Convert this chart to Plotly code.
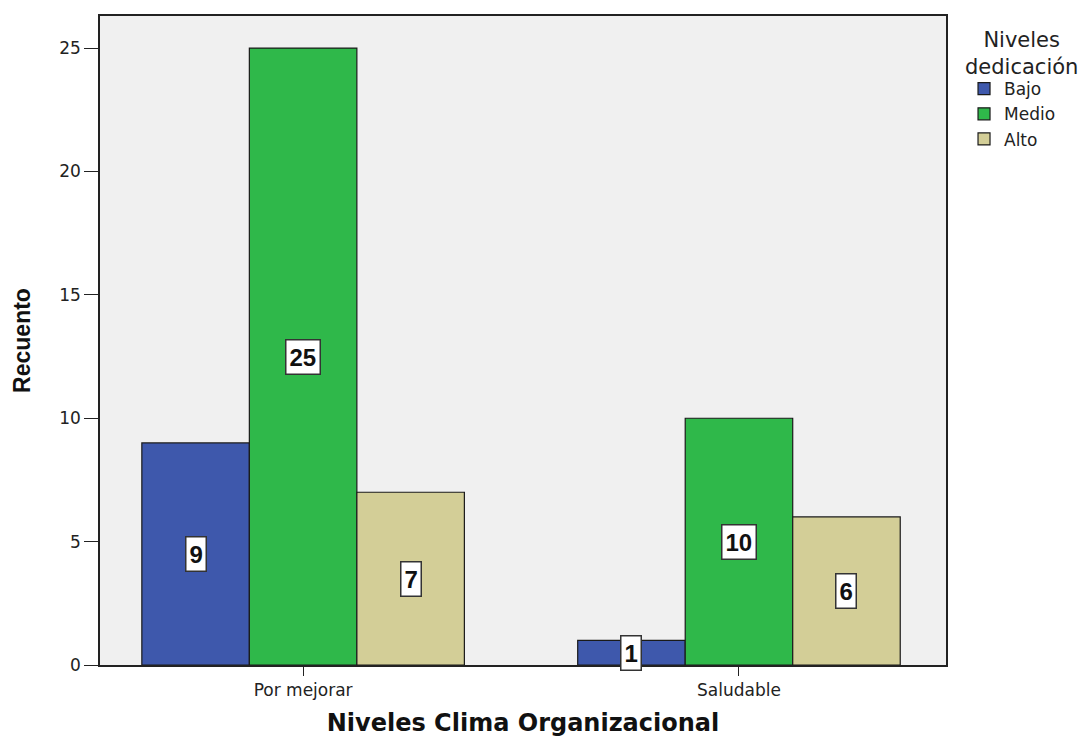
import plotly.graph_objects as go

categories = ["Por mejorar", "Saludable"]
series_names = ["Bajo", "Medio", "Alto"]
bajo = [9, 1]
medio = [25, 10]
alto = [7, 6]
colors = ["#3e58ac", "#2fb84a", "#d3ce97"]
series_values = [bajo, medio, alto]
y_ticks = [0, 5, 10, 15, 20, 25]

fig = go.Figure()
for name, vals, c in zip(series_names, series_values, colors):
    fig.add_trace(go.Bar(x=categories, y=vals, name=name,
                         marker=dict(color=c, line=dict(color="#1a1a1a", width=1.2))))

bargap = 0.26
bw = (1 - bargap) / 3
for si, vals in enumerate(series_values):
    off = (si - 1) * bw
    for ci, v in enumerate(vals):
        fig.add_annotation(x=ci + off, y=v / 2, xref="x", yref="y", text=f"<b>{v}</b>",
                           showarrow=False, bgcolor="white", bordercolor="#333333", borderwidth=1.5,
                           borderpad=3, font=dict(family="Liberation Sans, Arial", size=24, color="#111"))

# legend title as centered text
fig.add_annotation(x=1.0887, y=0.985, xref="paper", yref="paper", xanchor="center", yanchor="top",
                   text="Niveles<br>dedicación", align="center", showarrow=False,
                   font=dict(family="DejaVu Sans", size=21, color="#222"))

fig.update_layout(
    width=1089, height=737,
    barmode="group", bargap=bargap, bargroupgap=0,
    plot_bgcolor="#f0f0f0", paper_bgcolor="white",
    margin=dict(l=100, r=143, t=16, b=72),
    font=dict(family="DejaVu Sans", size=17, color="#222222"),
    legend=dict(x=1.0213, xanchor="left", y=0.915, yanchor="top",
                font=dict(family="DejaVu Sans", size=17, color="#222"), itemwidth=30, tracegroupgap=0),
    showlegend=True,
)
fig.update_xaxes(type="category", range=[-0.466, 1.475], showline=True, linecolor="#222",
                 linewidth=1.5, mirror=True, ticks="outside", ticklen=9, tickcolor="#222",
                 automargin=False,
                 tickfont=dict(family="DejaVu Sans", size=17, color="#222"),
                 title=dict(text="<b>Niveles Clima Organizacional</b>",
                            font=dict(family="DejaVu Sans", size=24, color="#111"), standoff=16))
fig.update_yaxes(range=[0, 26.3], tickvals=y_ticks, showgrid=False, zeroline=False,
                 showline=True, linecolor="#222", linewidth=1.5, mirror=True,
                 ticks="outside", ticklen=14, tickcolor="#222", automargin=False,
                 tickfont=dict(family="DejaVu Sans", size=17, color="#222"),
                 title=dict(text="<b>Recuento</b>",
                            font=dict(family="Liberation Sans", size=23, color="#111"),
                            standoff=22))

fig.write_html("out.html")
